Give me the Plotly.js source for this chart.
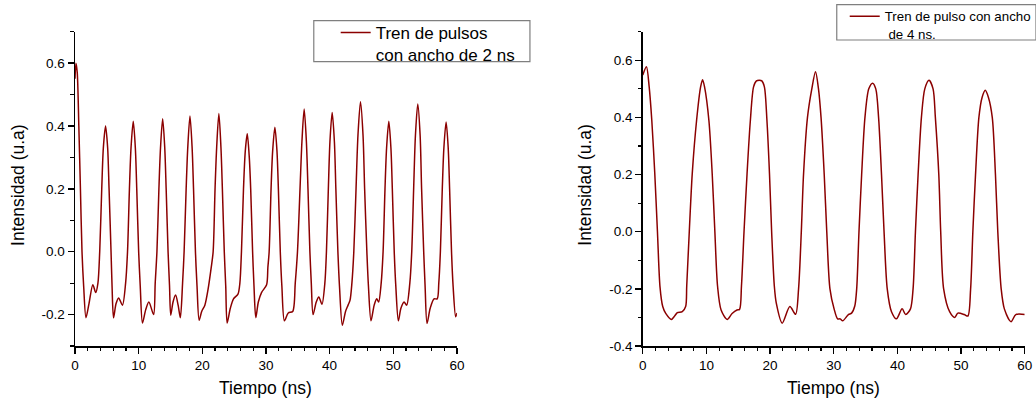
<!DOCTYPE html>
<html>
<head>
<meta charset="utf-8">
<script src="https://cdn.plot.ly/plotly-3.0.1.min.js"></script>
<style>html,body{margin:0;padding:0;background:#fff;}#chart{width:1036px;height:399px;}</style>
</head>
<body>
<div id="chart"></div>
<script>
// ---- Data: pulse train 2 ns (left panel) ----
const time2ns = [0,0.15,0.35,0.6,0.85,1.1,1.36,1.72,2.2,2.8,3.25,
  3.6,3.88,4.2,4.45,4.8,5.13,5.35,5.66,5.82,6.05,6.45,6.85,7.45,
  7.95,8.25,8.55,8.8,9.15,9.48,9.7,10.0,10.25,10.6,11.1,11.6,12.35,
  12.6,12.87,13.18,13.43,13.77,14.1,14.32,14.62,14.85,15.04,15.4,15.8,16.2,16.55,
  16.9,17.14,17.46,17.71,18.06,18.4,18.62,18.92,19.17,19.5,19.9,20.4,20.9,
  21.4,21.7,22.0,22.25,22.6,22.93,23.15,23.45,23.68,23.9,24.4,24.9,25.6,
  25.9,26.15,26.47,26.75,27.06,27.38,27.6,27.9,28.12,28.4,28.8,29.3,30.1,
  30.3,30.5,30.8,31.05,31.4,31.73,31.95,32.25,32.5,32.9,33.5,34.2,
  34.6,34.95,35.35,35.65,36.0,36.35,36.6,36.9,37.12,37.4,37.9,38.3,38.8,
  39.25,39.5,39.8,40.05,40.4,40.75,40.98,41.3,41.55,42.0,42.5,42.9,43.2,
  43.5,43.8,44.15,44.45,44.85,45.25,45.5,45.85,46.1,46.5,47.0,47.4,47.7,
  48.1,48.4,48.7,48.95,49.3,49.63,49.85,50.15,50.4,50.8,51.2,51.7,52.1,
  52.6,52.9,53.2,53.48,53.85,54.22,54.45,54.78,55.0,55.3,55.8,56.4,56.9,
  57.15,57.4,57.7,57.95,58.3,58.63,58.85,59.15,59.4,59.8,60];
const intensity2ns = [0.55,0.60,0.57,0.40,0.20,0.0,-0.11,-0.21,-0.165,-0.105,-0.13,
  -0.1,0.0,0.2,0.33,0.40,0.33,0.2,0.0,-0.11,-0.21,-0.165,-0.147,-0.17,
  -0.1,0.0,0.2,0.33,0.415,0.33,0.2,0.0,-0.11,-0.227,-0.185,-0.16,-0.2,
  -0.1,0.0,0.2,0.33,0.423,0.33,0.2,0.0,-0.11,-0.202,-0.16,-0.138,-0.17,-0.21,
  -0.1,0.0,0.2,0.33,0.432,0.33,0.2,0.0,-0.11,-0.218,-0.19,-0.17,-0.12,
  -0.05,0.0,0.2,0.33,0.44,0.33,0.2,0.0,-0.11,-0.227,-0.18,-0.15,-0.135,
  -0.1,0.0,0.2,0.32,0.375,0.3,0.2,0.0,-0.11,-0.21,-0.16,-0.13,-0.105,
  -0.05,0.0,0.2,0.32,0.396,0.32,0.2,0.0,-0.11,-0.22,-0.195,-0.19,
  -0.1,0.0,0.2,0.35,0.454,0.35,0.2,0.0,-0.1,-0.2,-0.16,-0.144,-0.167,
  -0.1,0.0,0.2,0.35,0.443,0.35,0.2,0.0,-0.11,-0.234,-0.19,-0.17,-0.155,
  -0.1,0.0,0.2,0.37,0.477,0.37,0.2,0.0,-0.11,-0.22,-0.17,-0.15,-0.16,
  -0.1,0.0,0.2,0.33,0.415,0.33,0.2,0.0,-0.11,-0.22,-0.18,-0.16,-0.17,
  -0.1,0.0,0.2,0.37,0.47,0.37,0.2,0.0,-0.11,-0.228,-0.18,-0.15,-0.15,
  -0.1,0.0,0.2,0.33,0.413,0.33,0.2,0.0,-0.11,-0.207,-0.195];

// ---- Data: pulse train 4 ns (right panel) ----
const time4ns = [0,0.57,1.0,1.41,1.88,2.3,2.7,3.13,3.6,4.49,5.0,5.43,6.2,6.73,6.9,7.3,7.77,8.45,9.08,9.39,9.7,
  10.38,10.9,11.32,11.74,12.3,13.25,14.03,14.8,15.2,15.5,15.9,16.38,16.9,17.4,17.85,18.3,18.7,19.1,19.5,19.9,
  20.24,20.66,20.97,21.9,23.1,24.0,24.47,24.9,25.25,25.87,26.55,27.13,27.6,28.0,28.5,28.9,29.4,30.05,30.6,31.0,
  31.4,32.3,32.8,33.3,33.6,33.96,34.38,34.9,35.5,36.1,36.6,37.04,37.5,37.9,38.4,39.07,39.85,40.74,41.3,42.05,
  42.46,42.83,43.25,43.77,44.3,44.97,45.6,45.96,46.5,46.8,47.26,48.2,49.0,49.5,50.5,51.07,51.5,51.85,52.27,52.8,
  53.3,53.8,54.3,54.9,55.4,55.77,56.3,56.8,57.85,58.6,60];
const intensity4ns = [0.548,0.577,0.507,0.39,0.204,0.0,-0.193,-0.262,-0.286,-0.307,-0.295,-0.283,-0.28,-0.262,-0.19,0.0,0.204,0.39,0.507,0.532,0.507,
  0.39,0.204,0.0,-0.19,-0.274,-0.307,-0.286,-0.274,-0.272,-0.19,0.0,0.204,0.39,0.507,0.528,0.53,0.528,0.507,0.39,0.204,
  0.0,-0.19,-0.25,-0.32,-0.262,-0.289,-0.2,0.0,0.2,0.4,0.5,0.56,0.5,0.4,0.2,0.0,-0.2,-0.27,-0.305,-0.305,
  -0.312,-0.29,-0.285,-0.26,-0.2,0.0,0.2,0.4,0.5,0.52,0.5,0.4,0.2,0.0,-0.2,-0.28,-0.305,-0.27,-0.29,-0.27,
  -0.2,0.0,0.2,0.4,0.5,0.53,0.5,0.4,0.2,0.0,-0.2,-0.28,-0.3,-0.285,-0.29,-0.295,-0.2,0.0,0.2,0.4,
  0.47,0.495,0.47,0.4,0.2,0.0,-0.2,-0.27,-0.315,-0.29,-0.29];

// ---- Tick labels ----
const xTickVals = [0,10,20,30,40,50,60];
const xTickText = ['0','10','20','30','40','50','60'];
const yTickVals1 = [-0.2,0.0,0.2,0.4,0.6];
const yTickText1 = ['-0.2','0.0','0.2','0.4','0.6'];
const yTickVals2 = [-0.4,-0.2,0.0,0.2,0.4,0.6];
const yTickText2 = ['-0.4','-0.2','0.0','0.2','0.4','0.6'];

const legendName1 = 'Tren de pulsos<br>con ancho de 2 ns';
const legendName2 = 'Tren de pulso con ancho<br> de 4 ns.';
const xTitle = 'Tiempo (ns)';
const yTitle = 'Intensidad (u.a)';

const W = 1036, H = 399;
const px = v => v / W;
const py = v => (H - v) / H;
const FONT = 'Liberation Sans, Arial, sans-serif';
const LINE = '#8b0000';
const TICKSIZE = 13.5, TITLESIZE = 17.5;

const traces = [
  {x: time2ns, y: intensity2ns, type: 'scatter', mode: 'lines', name: legendName1,
   line: {color: LINE, width: 1.5, shape: 'spline', smoothing: 0.8}, xaxis: 'x', yaxis: 'y', legend: 'legend'},
  {x: time4ns, y: intensity4ns, type: 'scatter', mode: 'lines', name: legendName2,
   line: {color: LINE, width: 1.5, shape: 'spline', smoothing: 0.8}, xaxis: 'x2', yaxis: 'y2', legend: 'legend2'}
];

function xAxis(dom, anchor) {
  return {domain: dom, anchor: anchor, range: [0, 60], tickvals: xTickVals, ticktext: xTickText,
    ticks: 'outside', ticklen: 6, tickwidth: 1.3, tickcolor: '#000',
    showline: true, linecolor: '#000', linewidth: 1.5, showgrid: false, zeroline: false,
    tickfont: {family: FONT, size: TICKSIZE, color: '#000'},
    minor: {dtick: 2, tick0: 0, ticks: 'outside', ticklen: 3.5, tickwidth: 1.2, tickcolor: '#000', showgrid: false},
    fixedrange: true};
}
function yAxis(dom, anchor, range, tv, tt) {
  return {domain: dom, anchor: anchor, range: range, tickvals: tv, ticktext: tt,
    ticks: 'outside', ticklen: 6, tickwidth: 1.3, tickcolor: '#000',
    showline: true, linecolor: '#000', linewidth: 1.5, showgrid: false, zeroline: false,
    tickfont: {family: FONT, size: TICKSIZE, color: '#000'},
    minor: {dtick: 0.1, tick0: 0, ticks: 'outside', ticklen: 3.5, tickwidth: 1.2, tickcolor: '#000', showgrid: false},
    fixedrange: true};
}

const yDom = [py(346), py(31.7)];
const layout = {
  width: W, height: H,
  margin: {l: 0, r: 0, t: 0, b: 0},
  paper_bgcolor: '#fff', plot_bgcolor: '#fff',
  font: {family: FONT, color: '#000'},
  xaxis: xAxis([px(75.3), px(458.7)], 'y'),
  yaxis: yAxis(yDom, 'x', [-0.3, 0.7], yTickVals1, yTickText1),
  xaxis2: xAxis([px(645.3), px(1028.7)], 'y2'),
  yaxis2: yAxis(yDom, 'x2', [-0.4, 0.7], yTickVals2, yTickText2),
  showlegend: true,
  legend: {x: px(337), y: py(15), xanchor: 'left', yanchor: 'top', bgcolor: 'rgba(0,0,0,0)', borderwidth: 0,
    valign: 'top', font: {family: FONT, size: 17, color: '#000'}},
  legend2: {x: px(848), y: py(1), xanchor: 'left', yanchor: 'top', bgcolor: 'rgba(0,0,0,0)', borderwidth: 0,
    valign: 'top', font: {family: FONT, size: 13.3, color: '#000'}},
  shapes: [
    {type: 'rect', xref: 'paper', yref: 'paper', x0: px(315), x1: px(532), y0: py(61.7), y1: py(20.7),
     line: {color: '#7f7f7f', width: 1.2}, fillcolor: 'rgba(0,0,0,0)'},
    {type: 'rect', xref: 'paper', yref: 'paper', x0: px(840), x1: px(1040), y0: py(40), y1: py(4.7),
     line: {color: '#7f7f7f', width: 1.2}, fillcolor: 'rgba(0,0,0,0)'}
  ],
  annotations: [
    {text: xTitle, xref: 'paper', yref: 'paper', x: px(267), y: py(388), showarrow: false,
     xanchor: 'center', yanchor: 'middle', font: {family: FONT, size: TITLESIZE, color: '#000'}},
    {text: xTitle, xref: 'paper', yref: 'paper', x: px(837), y: py(388), showarrow: false,
     xanchor: 'center', yanchor: 'middle', font: {family: FONT, size: TITLESIZE, color: '#000'}},
    {text: yTitle, xref: 'paper', yref: 'paper', x: px(18), y: py(185), showarrow: false, textangle: -90,
     xanchor: 'center', yanchor: 'middle', font: {family: FONT, size: TITLESIZE, color: '#000'}},
    {text: yTitle, xref: 'paper', yref: 'paper', x: px(587), y: py(185), showarrow: false, textangle: -90,
     xanchor: 'center', yanchor: 'middle', font: {family: FONT, size: TITLESIZE, color: '#000'}}
  ]
};

Plotly.newPlot('chart', traces, layout, {staticPlot: true, displayModeBar: false});
</script>
</body>
</html>
